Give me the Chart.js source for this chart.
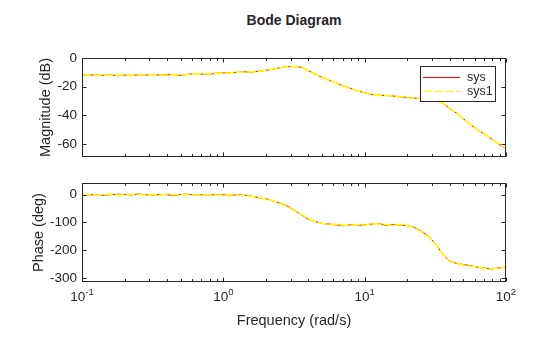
<!DOCTYPE html>
<html>
<head>
<meta charset="utf-8">
<script src="https://cdn.jsdelivr.net/npm/chart.js@4.4.0/dist/chart.umd.min.js"></script>
<style>
  body { margin: 0; background: #fff; }
  #wrap { position: relative; width: 560px; height: 337px; font-family: "Liberation Sans", Arial, sans-serif; color: #262626; }
  canvas { position: absolute; left: 0; }
  #title { position: absolute; left: 82px; width: 424px; top: 12px; text-align: center; font-weight: bold; font-size: 14px; line-height: 16px; }
</style>
</head>
<body>
<div id="wrap">
  <div id="title">Bode Diagram</div>
  <canvas id="magChart" width="560" height="170" style="top:0"></canvas>
  <canvas id="phaseChart" width="560" height="167" style="top:170px"></canvas>
</div>
<script>
// frequency points (rad/s)
const freq = [0.1, 0.112, 0.126, 0.141, 0.158, 0.178, 0.2, 0.224, 0.251, 0.282,
    0.316, 0.355, 0.398, 0.447, 0.501, 0.562, 0.631, 0.708, 0.794, 0.891,
    1, 1.12, 1.26, 1.41, 1.58, 1.78, 2, 2.24, 2.51, 2.82,
    3.16, 3.55, 3.98, 4.47, 5.01, 5.62, 6.31, 7.08, 7.94, 8.91,
    10, 11.2, 12.6, 14.1, 15.8, 17.8, 20, 22.4, 25.1, 28.2,
    31.6, 35.5, 39.8, 44.7, 50.1, 56.2, 63.1, 70.8, 79.4, 89.1, 100];

// magnitude (dB)
const magSys = [-11.8, -12.0, -11.6, -12.1, -11.9, -12.3, -12.0, -12.1, -11.8, -11.9,
    -11.6, -11.9, -11.7, -11.5, -12.2, -11.3, -10.9, -11.2, -11.4, -10.6,
    -10.4, -10.2, -10.0, -9.7, -9.8, -9.2, -8.6, -7.9, -6.8, -6.0,
    -6.0, -6.4, -8.8, -11.2, -13.6, -15.6, -17.6, -19.5, -21.1, -23.0,
    -24.3, -25.4, -25.9, -26.2, -26.5, -27.1, -27.6, -28.0, -28.3, -28.6,
    -29.3, -31.5, -35.0, -38.5, -42.5, -46.6, -50.3, -53.2, -56.8, -60.0, -63.2];
const magSys1 = [-12.0, -11.8, -11.9, -11.8, -12.2, -12.0, -11.9, -12.3, -11.9, -11.7,
    -11.8, -11.7, -12.0, -11.6, -11.9, -11.5, -11.1, -11.0, -11.2, -10.8,
    -10.5, -10.4, -9.9, -9.9, -9.6, -9.4, -8.4, -7.7, -7.0, -6.1,
    -5.9, -6.6, -8.6, -11.4, -13.4, -15.8, -17.4, -19.7, -21.3, -22.8,
    -24.5, -25.2, -26.1, -26.0, -26.7, -26.9, -27.8, -27.9, -28.5, -28.4,
    -29.6, -31.2, -35.3, -38.2, -42.8, -46.3, -50.6, -53.0, -57.1, -59.7, -63.0];

// phase (deg)
const phaseSys = [0, -1, 1, -2, 0, 2, 1, -1, 3, 0,
    -2, 1, 0, -3, 1, 2, -1, 0, -1, 1,
    0, -2, -1, -2, -5, -11, -14, -22, -30, -40,
    -55, -72, -88, -97, -104, -106, -109, -112, -109, -111,
    -108, -106, -103, -111, -108, -110, -111, -118, -131, -149,
    -176, -213, -239, -248, -252, -256, -262, -265, -268, -264, -262];
const phaseSys1 = [1, 0, -1, 0, 2, -1, 0, 2, 1, -1,
    0, -1, 2, -1, 0, 1, -2, 1, 0, -1,
    -1, 0, -2, -3, -6, -10, -15, -21, -31, -42,
    -57, -70, -86, -98, -103, -108, -107, -110, -111, -109,
    -110, -104, -106, -108, -111, -107, -112, -120, -133, -151,
    -178, -211, -241, -246, -254, -258, -260, -267, -266, -266, -260];

const seriesNames = ["sys", "sys1"];
const magTicks = [-60, -40, -20, 0];
const phaseTicks = [-300, -200, -100, 0];
const freqMajor = [0.1, 1, 10, 100];
const freqMinor = [0.2, 0.3, 0.4, 0.5, 0.6, 0.7, 0.8, 0.9,
    2, 3, 4, 5, 6, 7, 8, 9, 20, 30, 40, 50, 60, 70, 80, 90];

const axisColor = "#262626";
const fontFamily = "'Liberation Sans', Arial, sans-serif";

// MATLAB-style box with inward ticks, drawn from the chart's scales
const boxTicks = {
    id: "boxTicks",
    afterDraw(chart, args, opts) {
        const { ctx, chartArea: a } = chart;
        const xs = chart.scales.x, ys = chart.scales.y;
        const L = Math.round(a.left) + 0.5, R = Math.round(a.right) - 0.5;
        const T = Math.round(a.top) + 0.5, B = Math.round(a.bottom) - 0.5;
        ctx.save();
        ctx.strokeStyle = axisColor;
        ctx.lineWidth = 1;
        ctx.strokeRect(L, T, R - L, B - T);
        ctx.beginPath();
        ys.ticks.forEach(t => {
            const py = Math.round(ys.getPixelForValue(t.value)) + 0.5;
            ctx.moveTo(L, py); ctx.lineTo(L + 4, py);
            ctx.moveTo(R, py); ctx.lineTo(R - 4, py);
        });
        freqMajor.concat(freqMinor).forEach(v => {
            const px = Math.round(xs.getPixelForValue(v)) + 0.5;
            const len = freqMajor.includes(v) ? 4 : 2.5;
            ctx.moveTo(px, B); ctx.lineTo(px, B - len);
            ctx.moveTo(px, T); ctx.lineTo(px, T + len);
        });
        ctx.stroke();

        if (opts.xLabels) {
            ctx.fillStyle = axisColor;
            ctx.textBaseline = "alphabetic";
            freqMajor.forEach(v => {
                const px = xs.getPixelForValue(v);
                const ex = String(Math.round(Math.log10(v)));
                ctx.font = "13.5px " + fontFamily;
                const w1 = ctx.measureText("10").width;
                ctx.font = "9.5px " + fontFamily;
                const w2 = ctx.measureText(ex).width;
                const x0 = px - (w1 + w2) / 2;
                const base = a.bottom + 19;
                ctx.font = "13.5px " + fontFamily;
                ctx.fillText("10", x0, base);
                ctx.font = "9.5px " + fontFamily;
                ctx.fillText(ex, x0 + w1, base - 6);
            });
        }

        if (opts.legend) {
            const bx = Math.round(a.right) - 86, by = Math.round(a.top) + 8, bw = 75, bh = 35;
            ctx.fillStyle = "#fff";
            ctx.fillRect(bx, by, bw, bh);
            ctx.strokeStyle = axisColor;
            ctx.strokeRect(bx + 0.5, by + 0.5, bw, bh);
            ctx.font = "12.5px " + fontFamily;
            ctx.textBaseline = "middle";
            chart.data.datasets.forEach((ds, i) => {
                const y = by + 11 + i * 14 + 0.5;
                ctx.beginPath();
                ctx.strokeStyle = ds.borderColor;
                ctx.lineWidth = 1;
                ctx.setLineDash(ds.borderDash || []);
                ctx.moveTo(bx + 3, y); ctx.lineTo(bx + 40, y);
                ctx.stroke();
                ctx.setLineDash([]);
                ctx.fillStyle = axisColor;
                ctx.fillText(ds.label, bx + 47, y);
            });
        }
        ctx.restore();
    }
};

function makeChart(canvasId, sysVals, sys1Vals, yMin, yMax, yTicks, yTitle, titlePad, opts) {
    const ctx = document.getElementById(canvasId).getContext("2d");
    return new Chart(ctx, {
        type: "line",
        data: {
            datasets: [
                { label: seriesNames[0], data: freq.map((f, i) => ({ x: f, y: sysVals[i] })),
                  borderColor: "#ff0000", borderWidth: 1, pointRadius: 0, order: 1 },
                { label: seriesNames[1], data: freq.map((f, i) => ({ x: f, y: sys1Vals[i] })),
                  borderColor: "#ffff00", borderWidth: 1.6, borderDash: [9, 2], pointRadius: 0, order: 0 }
            ]
        },
        options: {
            responsive: false,
            animation: false,
            layout: { padding: { left: 0, right: 54, top: opts.padTop, bottom: 0 } },
            plugins: {
                legend: { display: false },
                tooltip: { enabled: false },
                boxTicks: { legend: opts.legend, xLabels: opts.xLabels }
            },
            scales: {
                x: {
                    type: "logarithmic",
                    min: 0.1, max: 100,
                    grid: { display: false, drawTicks: false, tickLength: 0 },
                    border: { display: false },
                    ticks: { display: false },
                    afterBuildTicks: s => { s.ticks = freqMajor.map(v => ({ value: v })); },
                    afterFit: s => { s.height = opts.xHeight; },
                    title: {
                        display: !!opts.xTitle, text: opts.xTitle || "",
                        color: axisColor, font: { family: fontFamily, size: 14.5 },
                        padding: { top: 0, bottom: 7 }
                    }
                },
                y: {
                    min: yMin, max: yMax,
                    grid: { display: false, drawTicks: false, tickLength: 0 },
                    border: { display: false },
                    ticks: { color: axisColor, padding: 5, font: { family: fontFamily, size: 13.5 } },
                    afterBuildTicks: s => { s.ticks = yTicks.map(v => ({ value: v })); },
                    afterFit: s => { s.width = 82; },
                    title: {
                        display: true, text: yTitle, color: axisColor,
                        font: { family: fontFamily, size: 14.5 },
                        padding: { top: titlePad, bottom: 0 }
                    }
                }
            }
        },
        plugins: [boxTicks]
    });
}

makeChart("magChart", magSys, magSys1, -69, 0, magTicks, "Magnitude (dB)", 37,
    { padTop: 58, xHeight: 12, legend: true, xLabels: false });
makeChart("phaseChart", phaseSys, phaseSys1, -315, 42, phaseTicks, "Phase (deg)", 30,
    { padTop: 12, xHeight: 55, legend: false, xLabels: true, xTitle: "Frequency (rad/s)" });
</script>
</body>
</html>
